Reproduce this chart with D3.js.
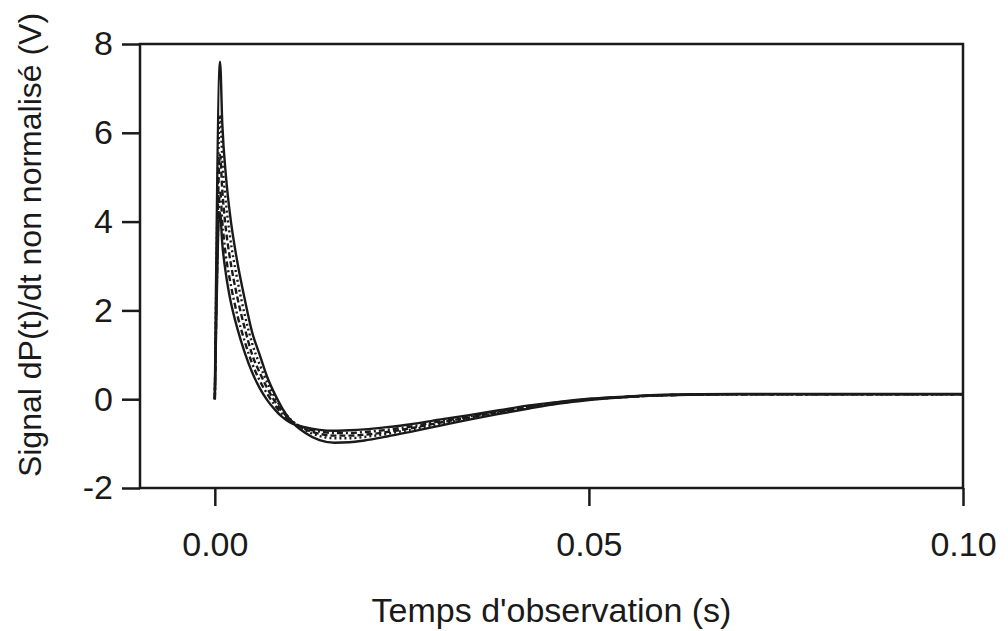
<!DOCTYPE html>
<html>
<head>
<meta charset="utf-8">
<script src="https://cdn.jsdelivr.net/npm/d3@7"></script>
<style>
  body { margin: 0; background: #fff; }
  text { font-family: "Liberation Sans", Arial, sans-serif; fill: #1a1a1a; }
</style>
</head>
<body>
<div class="chart"></div>
<script>
// observation times (s)
const times = [0, 0.0007, 0.001, 0.0015, 0.002, 0.003, 0.004, 0.005, 0.006, 0.007,
  0.008, 0.009, 0.010, 0.012, 0.014, 0.016, 0.018, 0.020, 0.023, 0.026,
  0.030, 0.034, 0.038, 0.042, 0.046, 0.050, 0.055, 0.060, 0.070, 0.080, 0.090, 0.100];

// signal dP(t)/dt (V), one array per recording
const signal1 = [0, 7.6, 6.2, 5.0, 4.2, 3.1, 2.25, 1.5, 1.0, 0.5,
  0.12, -0.2, -0.45, -0.75, -0.92, -0.98, -0.97, -0.93, -0.84, -0.74,
  -0.6, -0.46, -0.33, -0.21, -0.1, -0.02, 0.05, 0.1, 0.12, 0.12, 0.12, 0.12];
const signal2 = [0, 6.4, 5.4, 4.4, 3.7, 2.7, 1.9, 1.25, 0.78, 0.38,
  0.05, -0.22, -0.43, -0.69, -0.83, -0.88, -0.88, -0.85, -0.78, -0.69,
  -0.56, -0.43, -0.3, -0.19, -0.09, -0.01, 0.05, 0.09, 0.11, 0.11, 0.11, 0.11];
const signal3 = [0, 5.5, 4.7, 3.8, 3.2, 2.3, 1.6, 1.0, 0.6, 0.25,
  -0.04, -0.27, -0.45, -0.67, -0.78, -0.82, -0.82, -0.8, -0.74, -0.66,
  -0.53, -0.41, -0.29, -0.18, -0.08, 0.0, 0.05, 0.09, 0.11, 0.11, 0.11, 0.11];
const signal4 = [0, 4.7, 4.0, 3.2, 2.7, 1.9, 1.3, 0.8, 0.42, 0.12,
  -0.13, -0.33, -0.48, -0.65, -0.73, -0.76, -0.76, -0.74, -0.69, -0.62,
  -0.5, -0.39, -0.27, -0.16, -0.07, 0.0, 0.05, 0.09, 0.11, 0.11, 0.11, 0.11];
const signal5 = [0, 4.2, 3.5, 2.8, 2.3, 1.6, 1.05, 0.6, 0.25, -0.02,
  -0.23, -0.4, -0.52, -0.63, -0.69, -0.71, -0.7, -0.68, -0.63, -0.57,
  -0.46, -0.36, -0.25, -0.14, -0.06, 0.01, 0.06, 0.09, 0.11, 0.11, 0.11, 0.11];

const xTicks = [0, 0.05, 0.1];
const yTicks = [-2, 0, 2, 4, 6, 8];

const W = 1008, H = 631;
const plotLeft = 140, plotTop = 44, plotRight = 963, plotBottom = 488;

const svg = d3.select(".chart").append("svg").attr("width", W).attr("height", H);

const x = d3.scaleLinear().domain([-0.01, 0.1]).range([plotLeft, plotRight]);
const y = d3.scaleLinear().domain([-2, 8]).range([plotBottom, plotTop]);

// axes
const xAxis = svg.append("g")
  .attr("transform", "translate(0," + plotBottom + ")")
  .call(d3.axisBottom(x).tickValues(xTicks).tickSize(18).tickPadding(26).tickFormat(d3.format(".2f")));
const yAxis = svg.append("g")
  .attr("transform", "translate(" + plotLeft + ",0)")
  .call(d3.axisLeft(y).tickValues(yTicks).tickSize(18).tickPadding(9).tickFormat(function (d) { return String(d); }));

[xAxis, yAxis].forEach(function (g) {
  g.select(".domain").remove();
  g.selectAll(".tick line").attr("stroke", "#1a1a1a").attr("stroke-width", 2.5);
  g.selectAll(".tick text").style("font-size", "34px").attr("fill", "#1a1a1a");
});

// frame
svg.append("rect")
  .attr("x", plotLeft)
  .attr("y", plotTop)
  .attr("width", plotRight - plotLeft)
  .attr("height", plotBottom - plotTop)
  .attr("fill", "none")
  .attr("stroke", "#1a1a1a")
  .attr("stroke-width", 2.5);

// curves
const series = [
  { v: signal1, dash: null },
  { v: signal2, dash: "2,3" },
  { v: signal3, dash: "6,3" },
  { v: signal4, dash: "6,3,2,3" },
  { v: signal5, dash: null }
];

const line = d3.line()
  .x(function (d) { return x(d[0]); })
  .y(function (d) { return y(d[1]); })
  .curve(d3.curveMonotoneX);

series.forEach(function (s) {
  svg.append("path")
    .datum(d3.zip(times, s.v))
    .attr("d", line)
    .attr("fill", "none")
    .attr("stroke", "#1a1a1a")
    .attr("stroke-width", 2.4)
    .attr("stroke-dasharray", s.dash);
});

// axis titles
svg.append("text")
  .attr("x", (plotLeft + plotRight) / 2 + 0)
  .attr("y", 622)
  .attr("text-anchor", "middle")
  .style("font-size", "34px")
  .text("Temps d'observation (s)");

svg.append("text")
  .attr("transform", "translate(41,245) rotate(-90)")
  .attr("text-anchor", "middle")
  .style("font-size", "32px")
  .text("Signal dP(t)/dt non normalisé (V)");
</script>
</body>
</html>
